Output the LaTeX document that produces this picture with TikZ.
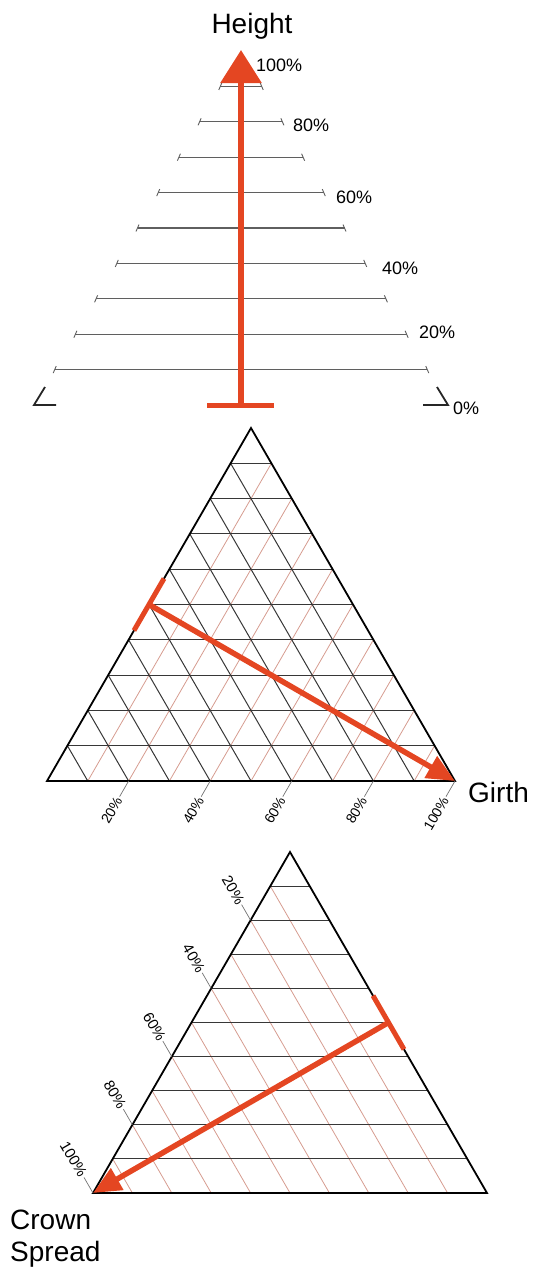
\documentclass[tikz,border=0pt]{standalone}
\usepackage{fontspec}
\setmainfont{Liberation Sans}
\usetikzlibrary{calc,arrows.meta}
\definecolor{tred}{RGB}{228,70,34}
\definecolor{glight}{RGB}{214,156,144}
\definecolor{gdark}{RGB}{55,55,55}
\definecolor{ggray}{RGB}{95,95,95}
\tikzset{
 hline/.style={draw=ggray, line width=1.1pt},
 endtick/.style={draw=ggray, line width=0.9pt},
 cornermark/.style={draw=black!85, line width=1.8pt},
 tri/.style={draw=black, line width=1.8pt, line join=miter},
 gd/.style={draw=gdark, line width=1pt},
 gl/.style={draw=glight, line width=0.8pt},
 tickl/.style={draw=black!55, line width=0.7pt},
 redshaft/.style={draw=tred, line width=6pt},
 redbar/.style={draw=tred, line width=5pt},
 pct/.style={font=\fontsize{18}{20}\selectfont, inner sep=0pt},
 big/.style={font=\fontsize{28}{32}\selectfont, inner sep=0pt},
 rlm/.style={font=\fontsize{14}{15}\selectfont, inner sep=1.5pt},
 rlb/.style={font=\fontsize{15}{16}\selectfont, inner sep=1.5pt},
}
\begin{document}
\begin{tikzpicture}[x=1pt,y=-1pt]
\useasboundingbox (0,0) rectangle (541,1270);

% ---------------- Top: Height ----------------
\coordinate (tl) at (34,405);
\coordinate (tr) at (448,405);
\coordinate (tapex) at (241,51);
\foreach \k in {1,...,9}{
  \coordinate (hl\k) at ($(tl)!\k/10!(tapex)$);
  \coordinate (hr\k) at ($(tr)!\k/10!(tapex)$);
  \draw[hline] (hl\k) -- (hr\k);
  \draw[endtick] (hl\k) ++(-1.5,3.5) -- ++(3,-7);
  \draw[endtick] (hr\k) ++(1.5,3.5) -- ++(-3,-7);
}
\coordinate (cl1) at (56,405);
\coordinate (cl2) at (45,387);
\coordinate (cr1) at (423,405);
\coordinate (cr2) at (437,387);
\draw[cornermark] (cl1) -- (tl) -- (cl2);
\draw[cornermark] (cr1) -- (tr) -- (cr2);

\coordinate (hbot) at (241,405);
\coordinate (htop) at (241,50);
\coordinate (hbl) at (207,405);
\coordinate (hbr) at (274,405);
\draw[redshaft, -{Triangle[length=33pt,width=40pt]}] (hbot) -- (htop);
\draw[redbar] (hbl) -- (hbr);

\node[big, anchor=base] (height) at (252,33) {Height};
\node[pct, anchor=west] (p100) at (256,65) {100\%};
\node[pct, anchor=west] (p80) at (293,125) {80\%};
\node[pct, anchor=west] (p60) at (336,197) {60\%};
\node[pct, anchor=west] (p40) at (382,268) {40\%};
\node[pct, anchor=west] (p20) at (419,332) {20\%};
\node[pct, anchor=west] (p0) at (453,408) {0\%};

% ---------------- Middle: Girth ----------------
\coordinate (A) at (251,428);
\coordinate (B) at (47,781);
\coordinate (C) at (455,781);
\foreach \k in {1,...,9}{
  \draw[gl] ($(B)!\k/10!(C)$) -- ($(C)!{1-\k/10}!(A)$);
}
\foreach \k in {1,...,9}{
  \draw[gd] ($(B)!\k/10!(C)$) -- ($(B)!\k/10!(A)$);
  \draw[gd] ($(B)!\k/10!(A)$) -- ($(C)!\k/10!(A)$);
}
\draw[tri] (A) -- (B) -- (C) -- cycle;
\foreach \k in {2,4,6,8,10}{
  \coordinate (mt\k) at ($(B)!\k/10!(C)$);
  \draw[tickl] (mt\k) -- ++(-9,15.6) coordinate (me\k);
  \pgfmathtruncatemacro{\pc}{\k*10}
  \node[rlm, rotate=60, anchor=east] (ml\k) at (me\k) {\pc\%};
}
\coordinate (M1) at ($(B)!0.5!(A)$);
\draw[redbar] ($(M1)!30pt!(A)$) -- ($(M1)!30pt!(B)$);
\draw[redshaft, line width=5.5pt, -{Triangle[length=28pt,width=24pt]}] (M1) -- (C);
\node[big, anchor=base west] (girth) at (468,802) {Girth};

% ---------------- Bottom: Crown Spread ----------------
\coordinate (A2) at (290,852);
\coordinate (B2) at (93,1193);
\coordinate (C2) at (487,1193);
\foreach \k in {1,...,9}{
  \draw[gl] ($(B2)!\k/10!(C2)$) -- ($(B2)!\k/10!(A2)$);
}
\foreach \k in {1,...,9}{
  \draw[gd] ($(B2)!\k/10!(A2)$) -- ($(C2)!\k/10!(A2)$);
}
\draw[tri] (A2) -- (B2) -- (C2) -- cycle;
\foreach \k in {2,4,6,8,10}{
  \coordinate (bt\k) at ($(A2)!\k/10!(B2)$);
  \draw[tickl] (bt\k) -- ++(-9,-15.6) coordinate (be\k);
  \pgfmathtruncatemacro{\pc}{\k*10}
  \node[rlb, rotate=-60, anchor=east] (bl\k) at (be\k) {\pc\%};
}
\coordinate (M2) at ($(C2)!0.5!(A2)$);
\draw[redbar] ($(M2)!31pt!(A2)$) -- ($(M2)!31pt!(C2)$);
\draw[redshaft, line width=5.5pt, -{Triangle[length=28pt,width=24pt]}] (M2) -- (B2);
\node[big, anchor=north west, align=left] (crown) at (10,1210) {Crown\\Spread};
\end{tikzpicture}
\end{document}
